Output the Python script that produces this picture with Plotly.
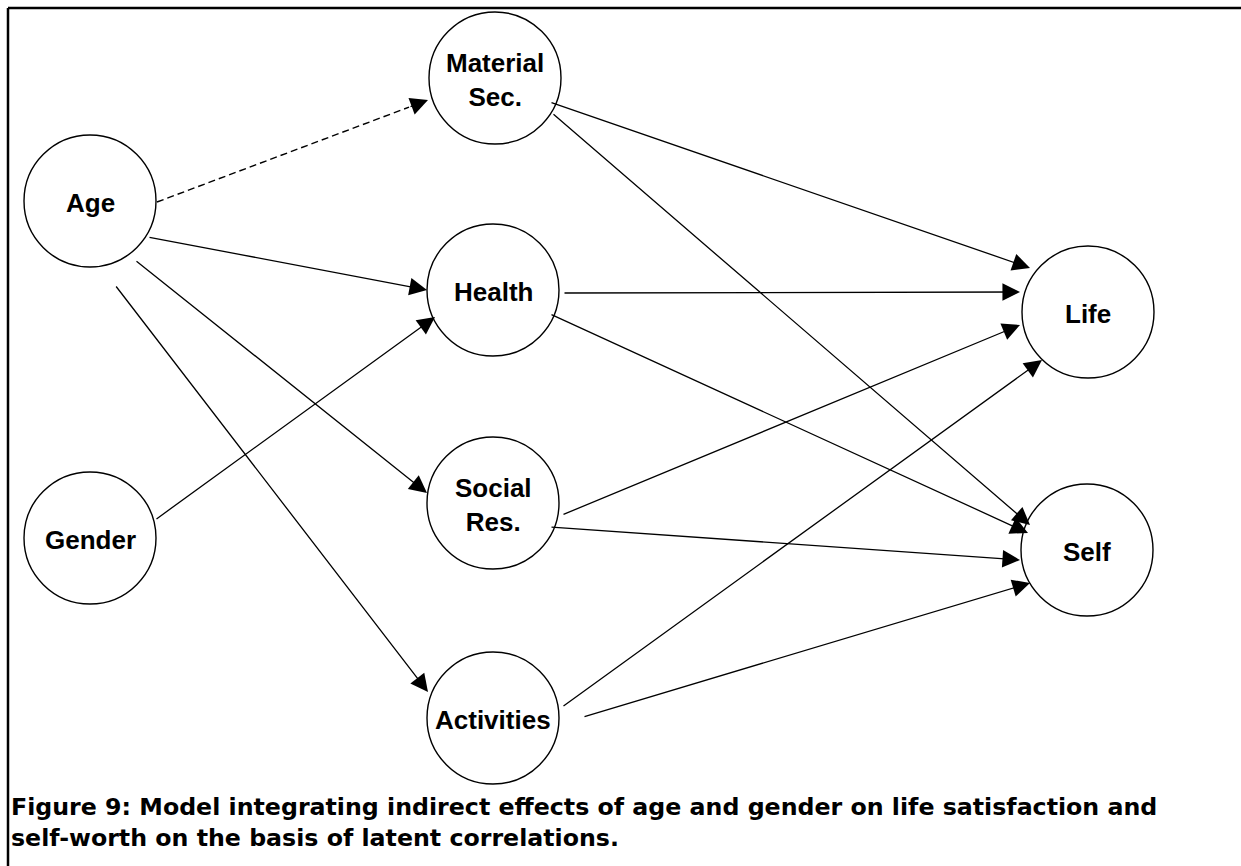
import plotly.graph_objects as go

# ---- data -------------------------------------------------------------
node_names = ["Age", "Gender", "Material<br>Sec.", "Health", "Social<br>Res.",
              "Activities", "Life", "Self"]
node_x = [90, 90, 495, 493, 493, 493, 1088, 1087]
node_y = [201, 538, 78, 290, 503, 718, 312, 550]
node_r = 66

# edges: source index, target index, dashed?
edge_src = [0, 0, 0, 0, 1, 2, 2, 3, 3, 4, 4, 5, 5]
edge_tgt = [2, 3, 4, 5, 3, 6, 7, 6, 7, 6, 7, 6, 7]
edge_dash = [True] + [False] * 12
# attachment offsets relative to node centres (start on source, tip on target)
edge_sdx = [67, 58, 45, 25, 65, 55, 57, 70, 57, 69, 57, 69, 90]
edge_sdy = [1, 36, 59, 84, -18, 24, 35, 3, 24, 12, 24, -11, -1]
edge_tdx = [-67, -66, -66, -65, -58, -58, -57, -68, -59, -68, -67, -46, -57]
edge_tdy = [22, 0, -10, -26, 27, -44, -25, -20, -17, 13, 10, 48, 33]

caption_lines = [
    "Figure 9: Model integrating indirect effects of age and gender on life satisfaction and",
    "self-worth on the basis of latent correlations.",
]

W, H = 1241, 866

fig = go.Figure()
# invisible trace to establish axes
fig.add_trace(go.Scatter(x=node_x, y=node_y, mode="markers",
                         marker=dict(size=1, color="rgba(0,0,0,0)"),
                         hoverinfo="skip", showlegend=False))

shapes = []
annotations = []

# frame (left + top)
shapes.append(dict(type="line", x0=8, y0=H + 5, x1=8, y1=8, xref="x", yref="y",
                   line=dict(color="black", width=2.5)))
shapes.append(dict(type="line", x0=8, y0=8, x1=W + 5, y1=8, xref="x", yref="y",
                   line=dict(color="black", width=2.5)))

# nodes
for name, cx, cy in zip(node_names, node_x, node_y):
    shapes.append(dict(type="circle", xref="x", yref="y",
                       x0=cx - node_r, x1=cx + node_r, y0=cy - node_r, y1=cy + node_r,
                       line=dict(color="black", width=1.4), fillcolor="white", layer="below"))
    annotations.append(dict(x=cx, y=cy + 2, xref="x", yref="y", text=name, showarrow=False,
                            font=dict(family="Liberation Sans, Arial", size=26,
                                      color="black", weight="bold"),
                            xanchor="center", yanchor="middle", align="center"))

# edges
for s, t, dash, sdx, sdy, tdx, tdy in zip(edge_src, edge_tgt, edge_dash,
                                           edge_sdx, edge_sdy, edge_tdx, edge_tdy):
    x0, y0 = node_x[s] + sdx, node_y[s] + sdy
    x1, y1 = node_x[t] + tdx, node_y[t] + tdy
    if dash:
        # dashed line, then arrowhead only
        fx, fy = x0 + (x1 - x0) * 0.93, y0 + (y1 - y0) * 0.93
        shapes.append(dict(type="line", x0=x0, y0=y0, x1=fx, y1=fy, xref="x", yref="y",
                           line=dict(color="black", width=1.4, dash="7px,4px")))
        annotations.append(dict(x=x1, y=y1, ax=fx, ay=fy, xref="x", yref="y",
                                axref="x", ayref="y", text="", showarrow=True,
                                arrowhead=2, arrowsize=2.7, arrowwidth=1.3,
                                arrowcolor="black", standoff=0))
    else:
        annotations.append(dict(x=x1, y=y1, ax=x0, ay=y0, xref="x", yref="y",
                                axref="x", ayref="y", text="", showarrow=True,
                                arrowhead=2, arrowsize=2.7, arrowwidth=1.3,
                                arrowcolor="black", standoff=0))

# caption
for i, line in enumerate(caption_lines):
    annotations.append(dict(x=9, y=807 + 31 * i, xref="x", yref="y", text=line,
                            showarrow=False, xanchor="left", yanchor="middle",
                            font=dict(family="DejaVu Sans, Verdana", size=23.7,
                                      color="black", weight="bold")))

fig.update_layout(
    width=W, height=H,
    margin=dict(l=0, r=0, t=0, b=0),
    paper_bgcolor="white", plot_bgcolor="white",
    xaxis=dict(range=[0, W], visible=False, fixedrange=True),
    yaxis=dict(range=[H, 0], visible=False, fixedrange=True),
    shapes=shapes, annotations=annotations, showlegend=False,
)

fig.write_html("out.html", config={"displayModeBar": False},
               post_script="document.body.style.margin='0';document.body.style.overflow='hidden';")
